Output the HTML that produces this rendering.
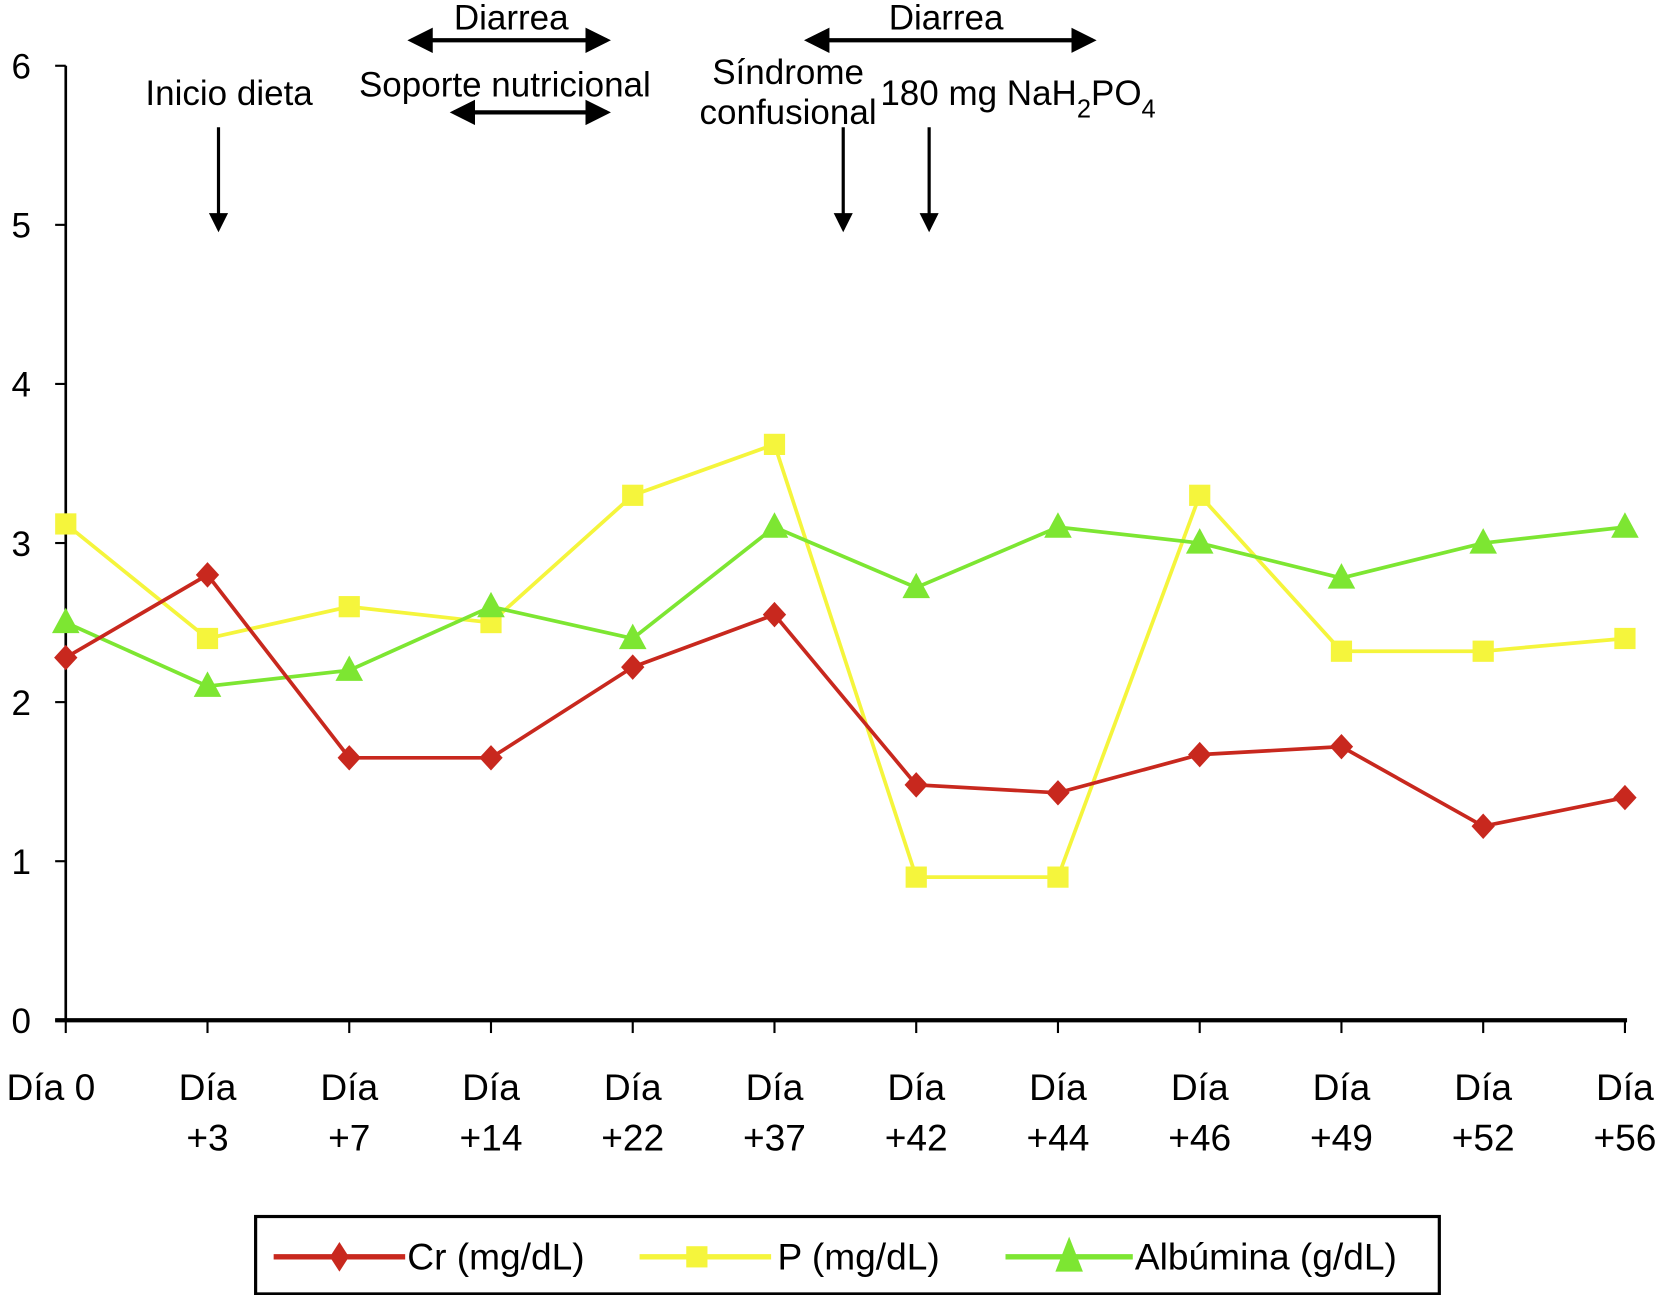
<!DOCTYPE html>
<html><head><meta charset="utf-8"><style>
html,body{margin:0;padding:0;background:#fff;}
svg{display:block;font-family:"Liberation Sans",Arial,sans-serif;}
</style></head><body>
<svg id="chart" width="1661" height="1295" viewBox="0 0 1566 1221" preserveAspectRatio="none" xmlns="http://www.w3.org/2000/svg">
<defs>
<marker id="ah" markerWidth="6" markerHeight="6" refX="5" refY="3" orient="auto-start-reverse" markerUnits="strokeWidth"><path d="M0,0 L6,3 L0,6 z" fill="#000"/></marker>
</defs>
<g id="axes"></g>
<g id="series"></g>
<g font-size="33" fill="#000">
<text x="482" y="28" text-anchor="middle">Diarrea</text>
<line x1="388" y1="38" x2="572" y2="38" stroke="#000" stroke-width="4" marker-start="url(#ah)" marker-end="url(#ah)"/>
<text x="476" y="91" text-anchor="middle">Soporte nutricional</text>
<line x1="428" y1="106" x2="572" y2="106" stroke="#000" stroke-width="4" marker-start="url(#ah)" marker-end="url(#ah)"/>
<text x="216" y="99" text-anchor="middle">Inicio dieta</text>
<line x1="206" y1="120" x2="206" y2="216" stroke="#000" stroke-width="3" marker-end="url(#ah)"/>
<text x="743" y="79" text-anchor="middle">Síndrome</text>
<text x="743" y="117" text-anchor="middle">confusional</text>
<line x1="795" y1="120" x2="795" y2="216" stroke="#000" stroke-width="3" marker-end="url(#ah)"/>
<text x="830" y="99">180 mg NaH<tspan font-size="24" dy="12">2</tspan><tspan dy="-12">PO</tspan><tspan font-size="24" dy="12">4</tspan></text>
<line x1="876" y1="120" x2="876" y2="216" stroke="#000" stroke-width="3" marker-end="url(#ah)"/>
<text x="892" y="28" text-anchor="middle">Diarrea</text>
<line x1="762" y1="38" x2="1030" y2="38" stroke="#000" stroke-width="4" marker-start="url(#ah)" marker-end="url(#ah)"/>
</g>
<g>
<rect x="241" y="1147" width="1116" height="73" fill="#fff" stroke="#000" stroke-width="3"/>
<line x1="258" y1="1185" x2="382" y2="1185" stroke="#c8281e" stroke-width="5"/>
<path d="M320,1171 L329,1185 L320,1199 L311,1185Z" fill="#c8281e"/>
<text x="384" y="1197" font-size="35">Cr (mg/dL)</text>
<line x1="603" y1="1185" x2="727" y2="1185" stroke="#f5f53c" stroke-width="5"/>
<rect x="647" y="1175" width="20" height="20" fill="#f5f53c"/>
<text x="733" y="1197" font-size="35">P (mg/dL)</text>
<line x1="948" y1="1185" x2="1068" y2="1185" stroke="#7de632" stroke-width="5"/>
<path d="M1008,1166 L1021,1199 L995,1199Z" fill="#7de632"/>
<text x="1070" y="1197" font-size="35">Albúmina (g/dL)</text>
</g>
</svg>
<script>
const categories = ["Día 0","Día +3","Día +7","Día +14","Día +22","Día +37","Día +42","Día +44","Día +46","Día +49","Día +52","Día +56"];
const crValues = [2.28, 2.8, 1.65, 1.65, 2.22, 2.55, 1.48, 1.43, 1.67, 1.72, 1.22, 1.4];
const pValues = [3.12, 2.4, 2.6, 2.5, 3.3, 3.62, 0.9, 0.9, 3.3, 2.32, 2.32, 2.4];
const albValues = [2.5, 2.1, 2.2, 2.6, 2.4, 3.1, 2.72, 3.1, 3.0, 2.78, 3.0, 3.1];
const yTicks = [0,1,2,3,4,5,6];

const NS = "http://www.w3.org/2000/svg";
const x0 = 62, x1 = 1532, yZero = 962, yTop = 62, yMax = 6;
function xPos(i){ return x0 + (x1 - x0) * i / (categories.length - 1); }
function yPos(v){ return yZero - (yZero - yTop) * v / yMax; }
function mk(tag, attrs, parent){ const e = document.createElementNS(NS, tag); for (const k in attrs) e.setAttribute(k, attrs[k]); parent.appendChild(e); return e; }

const axes = document.getElementById('axes');
let e = mk('line', {x1:x0, y1:yTop, x2:x0, y2:yZero, stroke:'#000', 'stroke-width':2.5}, axes);


e = mk('line', {x1:52, y1:yZero, x2:x1+2, y2:yZero, stroke:'#000', 'stroke-width':4}, axes);


yTicks.forEach(t => {
  const y = yPos(t);
  const l = mk('line', {x1:52, y1:y, x2:x0, y2:y, stroke:'#000', 'stroke-width':2}, axes);
  
  
  const tx = mk('text', {x:20, y:y+12, 'font-size':33, 'text-anchor':'middle'}, axes);
  tx.textContent = t;
  
  
});
categories.forEach((c, i) => {
  const x = xPos(i);
  const l = mk('line', {x1:x, y1:yZero, x2:x, y2:yZero+12, stroke:'#000', 'stroke-width':2}, axes);
  
  
  const parts = c.split(' ');
  if (i === 0) {
    const t = mk('text', {x:48, y:1037, 'font-size':35, 'text-anchor':'middle'}, axes);
    t.textContent = c;
    
    
  } else {
    const cx = Math.min(x, 1532);
    const t = mk('text', {x:cx, y:1037, 'font-size':35, 'text-anchor':'middle'}, axes);
    t.textContent = parts[0];
    
    
    const t2 = mk('text', {x:cx, y:1085, 'font-size':35, 'text-anchor':'middle'}, axes);
    t2.textContent = parts[1];
    
    
  }
});

const series = document.getElementById('series');
function drawSeries(vals, color, shape, name){
  const g = mk('g', {}, series);
  
  
  const pl = mk('polyline', {points: vals.map((v,i)=>xPos(i)+','+yPos(v)).join(' '), fill:'none', stroke:color, 'stroke-width':3.5}, g);
  
  
  vals.forEach((v,i) => {
    const x = xPos(i), y = yPos(v);
    let m;
    if (shape === 'diamond') m = mk('path', {d:`M${x},${y-12} L${x+11},${y} L${x},${y+12} L${x-11},${y}Z`, fill:color}, g);
    else if (shape === 'square') m = mk('rect', {x:x-10, y:y-10, width:20, height:20, fill:color}, g);
    else m = mk('path', {d:`M${x},${y-14} L${x+13},${y+10} L${x-13},${y+10}Z`, fill:color}, g);
    
    
  });
}
drawSeries(pValues, '#f5f53c', 'square', 'p');
drawSeries(albValues, '#7de632', 'triangle', 'albumina');
drawSeries(crValues, '#c8281e', 'diamond', 'cr');
</script>
</body></html>
